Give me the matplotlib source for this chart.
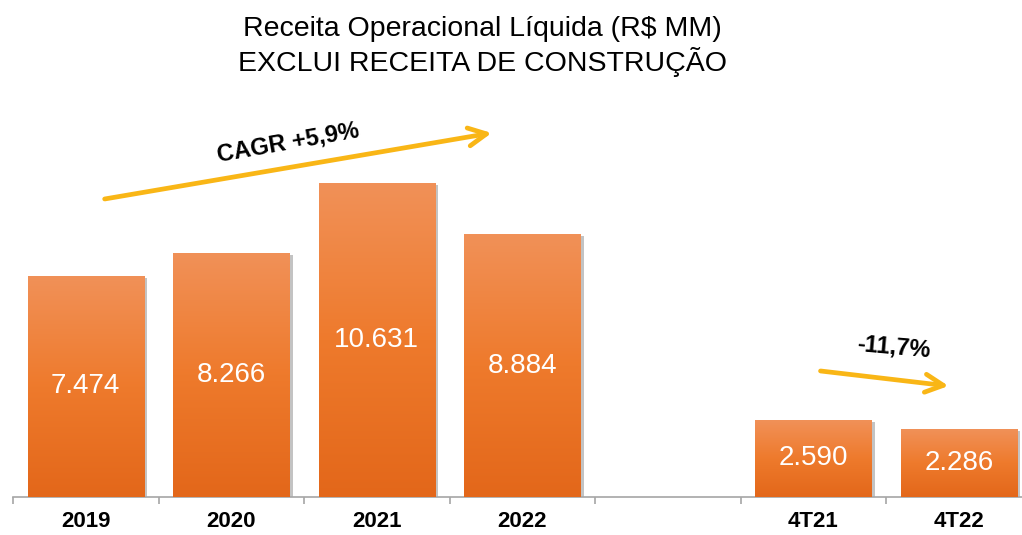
import numpy as np
import matplotlib.pyplot as plt
import matplotlib.patheffects as pe
from matplotlib.colors import LinearSegmentedColormap

plt.rcParams['font.family'] = ['Liberation Sans', 'DejaVu Sans']

categories = ['2019', '2020', '2021', '2022', '', '4T21', '4T22']
values = [7474, 8266, 10631, 8884, None, 2590, 2286]
value_labels = ['7.474', '8.266', '10.631', '8.884', '', '2.590', '2.286']

title = 'Receita Operacional Líquida (R$ MM)\nEXCLUI RECEITA DE CONSTRUÇÃO'
cagr_text = 'CAGR +5,9%'
quarter_text = '-11,7%'

fig = plt.figure(figsize=(10.22, 5.35), dpi=100)
ax = fig.add_axes([13 / 1022, 0.0716, 7 * 145.5 / 1022, 0.7176])

grad_cmap = LinearSegmentedColormap.from_list(
    'barfade', ['#E3671A', '#EE7A2C', '#F19158'])
grad = np.linspace(0, 1, 256).reshape(-1, 1)

bar_w = 0.8
x = np.arange(len(categories))
for i, v in enumerate(values):
    if v is None:
        continue
    bar = ax.bar(x[i], v, width=bar_w, color='#EE7A2C', zorder=2,
                 path_effects=[pe.SimplePatchShadow(offset=(2.5, -1.5), alpha=0.35,
                                                    shadow_rgbFace='#555555'),
                               pe.Normal()])[0]
    im = ax.imshow(grad, extent=[x[i] - bar_w / 2, x[i] + bar_w / 2, 0, v],
                   origin='lower', cmap=grad_cmap, aspect='auto', zorder=3)
    im.set_clip_path(bar)
    ax.text(x[i], v / 2, value_labels[i], ha='center', va='center',
            color='white', fontsize=20, zorder=4)

ax.set_xlim(-0.5, 6.5)
ax.set_ylim(0, 13000)

for s in ['top', 'right', 'left']:
    ax.spines[s].set_visible(False)
ax.spines['bottom'].set_color('#A6A6A6')
ax.spines['bottom'].set_linewidth(1.2)
ax.set_yticks([])
ax.set_xticks(x)
ax.set_xticklabels(categories, fontsize=16, fontweight='bold')
ax.set_xticks(np.arange(-0.5, 7, 1), minor=True)
ax.tick_params(axis='x', which='major', length=0, pad=10)
ax.tick_params(axis='x', which='minor', length=5, width=1.2, color='#A6A6A6')

fig.text(0.472, 0.913, title, ha='center', va='center', fontsize=20.5,
         linespacing=1.2)

arrow_props = dict(arrowstyle='->,head_length=1.3,head_width=0.65',
                   color='#F9B616', lw=3.4, shrinkA=0, shrinkB=0)
ax.annotate('', xy=(2.79, 12316), xytext=(0.13, 10081), arrowprops=arrow_props,
            annotation_clip=False)
ax.text(1.39, 11977, cagr_text, ha='center', va='center', fontsize=17,
        fontweight='bold', rotation=10)
ax.annotate('', xy=(5.93, 3749), xytext=(5.05, 4257), arrowprops=arrow_props)
ax.text(5.55, 5069, quarter_text, ha='center', va='center', fontsize=17,
        fontweight='bold', rotation=-5)

fig.savefig('out.png', dpi=100)
